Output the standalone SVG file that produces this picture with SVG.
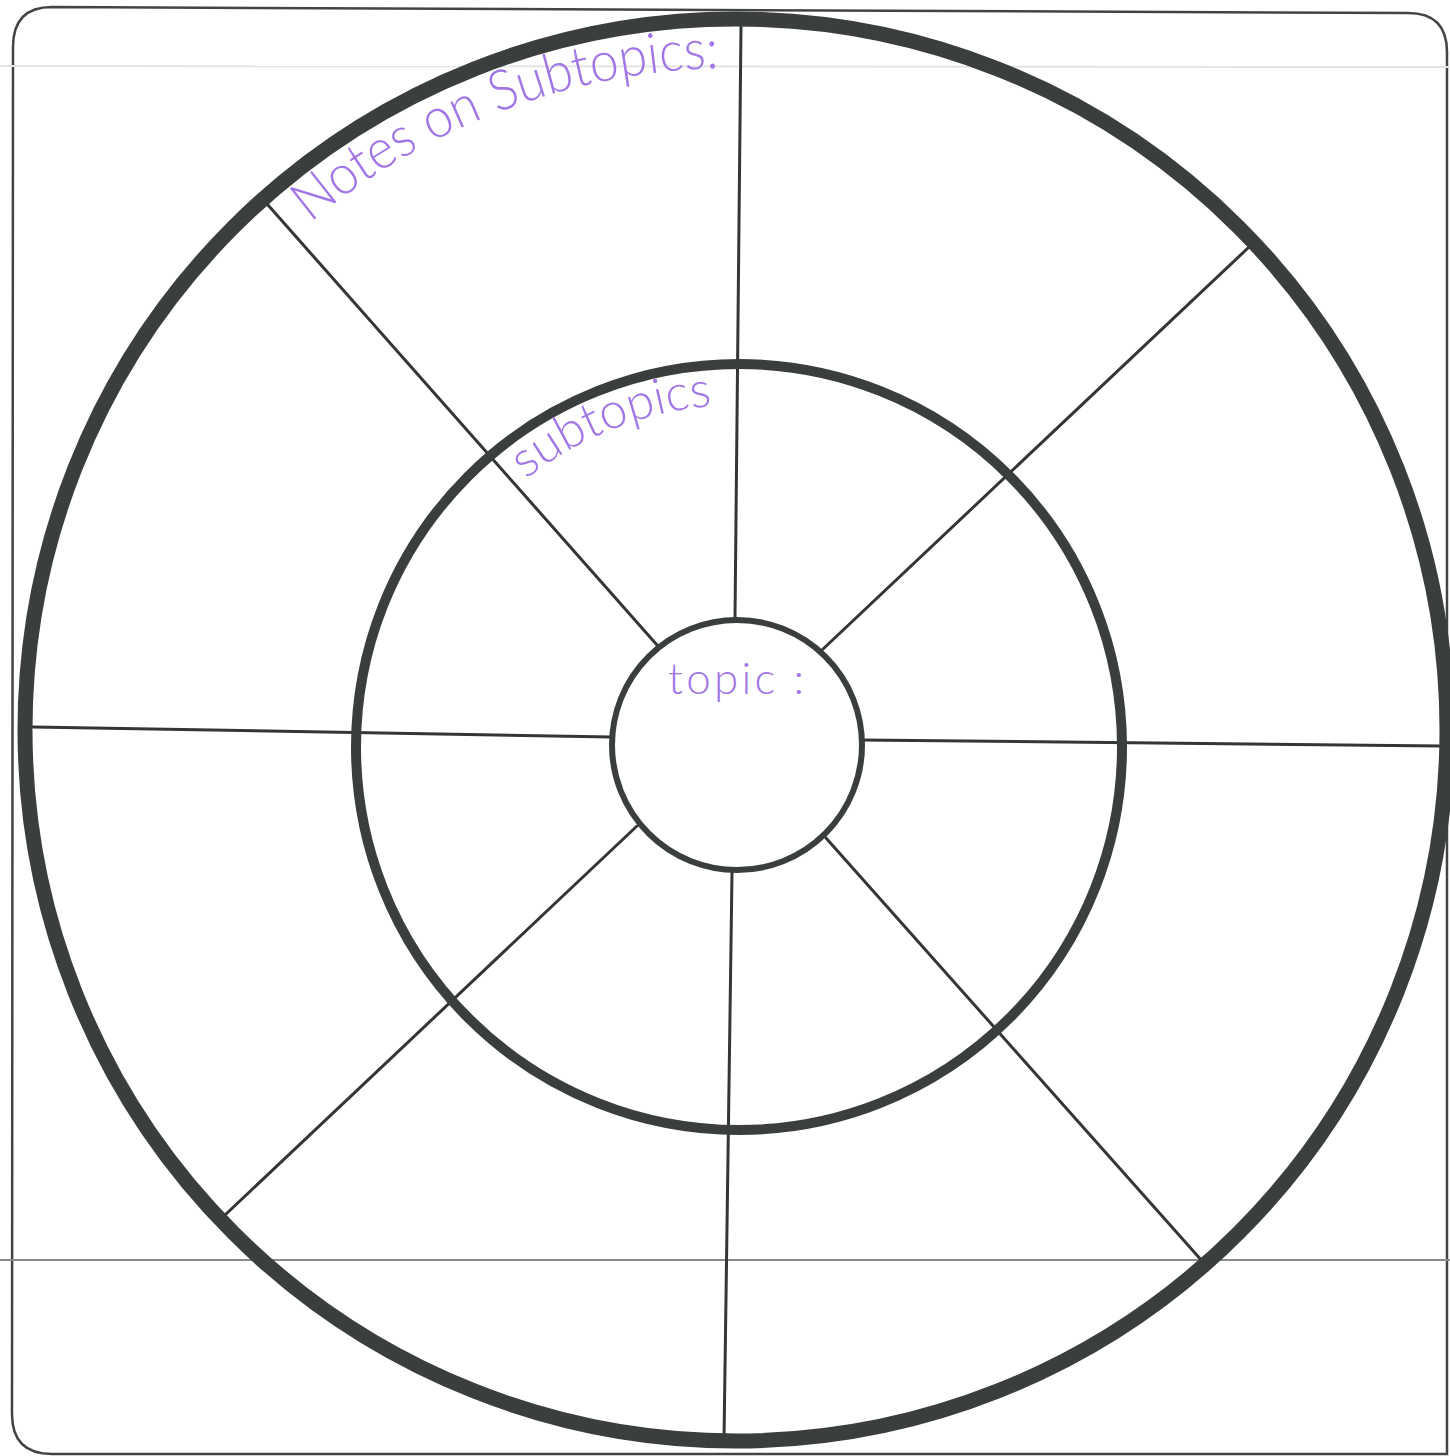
<svg xmlns="http://www.w3.org/2000/svg" width="1450" height="1456" viewBox="0 0 1450 1456">
<style>
.ring{fill:none;stroke:#3b3e3e}
.spoke{stroke:#333636;stroke-width:3;stroke-linecap:round}
.hand{fill:#a176e6;font-family:"Lato","Liberation Sans",sans-serif;font-weight:300}
</style>
<rect width="1450" height="1456" fill="#ffffff"/>
<g id="sheet">
<path d="M 52 7 L 1408 13 Q 1447 13 1447 52 L 1447 1454 L 52 1454 Q 12 1454 12 1414 L 13 47 Q 13 7 52 7 Z" fill="none" stroke="#444" stroke-width="2.5"/>
<line x1="0" y1="66" x2="1450" y2="67" stroke="#e4e4e4" stroke-width="2"/>
<line x1="0" y1="1260" x2="1450" y2="1260" stroke="#8a8a8a" stroke-width="2"/>
</g>
<g id="connectors">
<line class="spoke" x1="741" y1="25" x2="735" y2="618"/>
<line class="spoke" x1="732" y1="873" x2="724" y2="1440"/>
<line class="spoke" x1="33" y1="727" x2="611" y2="737"/>
<line class="spoke" x1="862" y1="740" x2="1441" y2="746"/>
<line class="spoke" x1="268" y1="205" x2="657" y2="645"/>
<line class="spoke" x1="1248" y1="248" x2="822" y2="650"/>
<line class="spoke" x1="637" y1="826" x2="225" y2="1215"/>
<line class="spoke" x1="826" y1="838" x2="1203" y2="1262"/>
</g>
<g id="outer-ring">
<circle class="ring" cx="736" cy="730" r="711" stroke-width="15"/>
<path id="arcNotes" d="M 310.5 223 A 662 662 0 0 1 724.4 68" fill="none"/>
<text class="hand" font-size="56"><textPath href="#arcNotes" textLength="445" lengthAdjust="spacingAndGlyphs">Notes on Subtopics:</textPath></text>
</g>
<g id="middle-ring">
<circle class="ring" cx="739" cy="747" r="383" stroke-width="10"/>
<path id="arcSub" d="M 526 479.4 A 342 342 0 0 1 715 405.8" fill="none"/>
<text class="hand" font-size="50"><textPath href="#arcSub" textLength="203" lengthAdjust="spacingAndGlyphs">subtopics</textPath></text>
</g>
<g id="topic">
<circle class="ring" cx="737" cy="745" r="125" stroke-width="6"/>
<text class="hand" x="668" y="694" font-size="44" textLength="136" lengthAdjust="spacing">topic :</text>
</g>
</svg>
